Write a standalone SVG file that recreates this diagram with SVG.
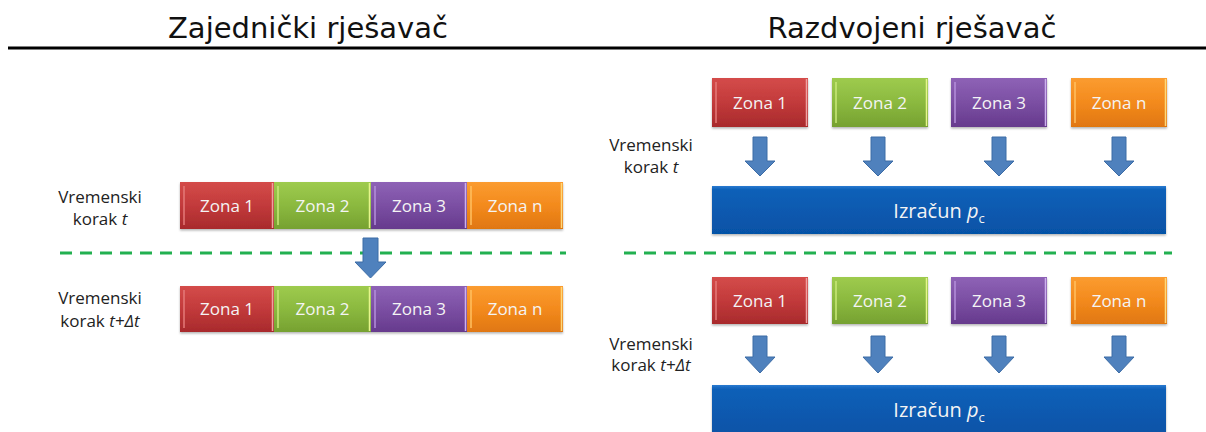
<svg xmlns="http://www.w3.org/2000/svg" width="1206" height="432" viewBox="0 0 1206 432">
<defs>
<linearGradient id="gRed" x1="0" y1="0" x2="0" y2="1"><stop offset="0" stop-color="#d44c4a"/><stop offset="0.5" stop-color="#c23a3b"/><stop offset="1" stop-color="#a82a2c"/></linearGradient>
<linearGradient id="gGreen" x1="0" y1="0" x2="0" y2="1"><stop offset="0" stop-color="#9ecb4e"/><stop offset="0.5" stop-color="#8bb93f"/><stop offset="1" stop-color="#76a131"/></linearGradient>
<linearGradient id="gPurple" x1="0" y1="0" x2="0" y2="1"><stop offset="0" stop-color="#8e62b6"/><stop offset="0.5" stop-color="#7b4fa3"/><stop offset="1" stop-color="#663a8d"/></linearGradient>
<linearGradient id="gOrange" x1="0" y1="0" x2="0" y2="1"><stop offset="0" stop-color="#fb9c30"/><stop offset="0.5" stop-color="#f38a1d"/><stop offset="1" stop-color="#e07711"/></linearGradient>
<linearGradient id="gBlue" x1="0" y1="0" x2="0" y2="1"><stop offset="0" stop-color="#2a7ad0"/><stop offset="0.08" stop-color="#0e60b8"/><stop offset="1" stop-color="#0652a6"/></linearGradient>
<filter id="sh" x="-5%" y="-10%" width="110%" height="130%"><feDropShadow dx="0" dy="1.5" stdDeviation="1" flood-color="#000" flood-opacity="0.3"/></filter>
</defs>
<style>
.head{font-family:"DejaVu Sans",Verdana,sans-serif;font-size:29px;fill:#111;text-anchor:middle}
.lbl{font-family:"Open Sans","Liberation Sans",sans-serif;font-size:17px;fill:#222;text-anchor:middle}
.zt{font-family:"Open Sans","Liberation Sans",sans-serif;font-size:17px;fill:#f4f4f4;text-anchor:middle}
.bt{font-family:"Open Sans","Liberation Sans",sans-serif;font-size:20px;fill:#f4f4f4;text-anchor:middle}
.red{fill:url(#gRed)}.green{fill:url(#gGreen)}.purple{fill:url(#gPurple)}.orange{fill:url(#gOrange)}.blue{fill:url(#gBlue)}
.box{filter:url(#sh)}
.hl{stroke-width:1.5}
.dash{stroke:#22b050;stroke-width:3;stroke-dasharray:12 8;fill:none}
.arr{fill:#4f81bd;stroke:#3c6ca6;stroke-width:1}
</style>
<rect width="1206" height="432" fill="#fff"/>
<text class="head" x="308" y="38">Zajednički rješavač</text>
<text class="head" x="912" y="38">Razdvojeni rješavač</text>
<rect x="8" y="46.5" width="1198" height="3" fill="#000"/>

<line class="dash" x1="60" y1="253" x2="566" y2="253"/>
<line class="dash" x1="624" y1="253" x2="1172" y2="253"/>

<g id="label-left-t"><text class="lbl" x="100" y="203">Vremenski</text><text class="lbl" x="100" y="225">korak <tspan font-style="italic">t</tspan></text></g>
<g id="label-left-tdt"><text class="lbl" x="100" y="304">Vremenski</text><text class="lbl" x="100" y="327">korak <tspan font-style="italic">t+Δt</tspan></text></g>
<g id="label-right-t"><text class="lbl" x="651" y="151">Vremenski</text><text class="lbl" x="651" y="173">korak <tspan font-style="italic">t</tspan></text></g>
<g id="label-right-tdt"><text class="lbl" x="651" y="350">Vremenski</text><text class="lbl" x="651" y="371">korak <tspan font-style="italic">t+Δt</tspan></text></g>

<!-- Left: joint solver rows -->
<g id="row-left-t" class="box">
<rect class="red" x="180" y="182" width="94" height="47"/>
<rect class="green" x="274" y="182" width="97" height="47"/>
<rect class="purple" x="371" y="182" width="96" height="47"/>
<rect class="orange" x="467" y="182" width="96" height="47"/>
</g>
<g id="left-t-hl" class="hl">
<line x1="184" y1="186" x2="184" y2="225" stroke="#e57a78"/><line x1="272.5" y1="183" x2="272.5" y2="228" stroke="#f0a0a0"/>
<line x1="278" y1="186" x2="278" y2="225" stroke="#c8e878"/><line x1="369.5" y1="183" x2="369.5" y2="228" stroke="#e6f58c"/>
<line x1="375" y1="186" x2="375" y2="225" stroke="#b58fdb"/><line x1="465.5" y1="183" x2="465.5" y2="228" stroke="#cdb0ee"/>
<line x1="471" y1="186" x2="471" y2="225" stroke="#ffc060"/><line x1="561.5" y1="183" x2="561.5" y2="228" stroke="#ffd878"/>
</g>
<g id="left-t-zona1"><text class="zt" x="227" y="212">Zona 1</text></g>
<g id="left-t-zona2"><text class="zt" x="322.5" y="212">Zona 2</text></g>
<g id="left-t-zona3"><text class="zt" x="419" y="212">Zona 3</text></g>
<g id="left-t-zonan"><text class="zt" x="515" y="212">Zona n</text></g>

<g id="row-left-tdt" class="box">
<rect class="red" x="180" y="286" width="94" height="46"/>
<rect class="green" x="274" y="286" width="97" height="46"/>
<rect class="purple" x="371" y="286" width="96" height="46"/>
<rect class="orange" x="467" y="286" width="96" height="46"/>
</g>
<g id="left-tdt-hl" class="hl">
<line x1="184" y1="290" x2="184" y2="328" stroke="#e57a78"/><line x1="272.5" y1="287" x2="272.5" y2="331" stroke="#f0a0a0"/>
<line x1="278" y1="290" x2="278" y2="328" stroke="#c8e878"/><line x1="369.5" y1="287" x2="369.5" y2="331" stroke="#e6f58c"/>
<line x1="375" y1="290" x2="375" y2="328" stroke="#b58fdb"/><line x1="465.5" y1="287" x2="465.5" y2="331" stroke="#cdb0ee"/>
<line x1="471" y1="290" x2="471" y2="328" stroke="#ffc060"/><line x1="561.5" y1="287" x2="561.5" y2="331" stroke="#ffd878"/>
</g>
<g id="left-tdt-zona1"><text class="zt" x="227" y="315">Zona 1</text></g>
<g id="left-tdt-zona2"><text class="zt" x="322.5" y="315">Zona 2</text></g>
<g id="left-tdt-zona3"><text class="zt" x="419" y="315">Zona 3</text></g>
<g id="left-tdt-zonan"><text class="zt" x="515" y="315">Zona n</text></g>

<!-- Right: segregated solver, step t -->
<g id="r-t-zona1"><rect class="red box" x="712" y="78" width="96" height="49"/><line class="hl" x1="716" y1="82" x2="716" y2="123" stroke="#e57a78"/><line class="hl" x1="806.5" y1="79" x2="806.5" y2="126" stroke="#f0a0a0"/><text class="zt" x="760" y="109">Zona 1</text></g>
<g id="r-t-zona2"><rect class="green box" x="832" y="78" width="96" height="49"/><line class="hl" x1="836" y1="82" x2="836" y2="123" stroke="#c8e878"/><line class="hl" x1="926.5" y1="79" x2="926.5" y2="126" stroke="#e6f58c"/><text class="zt" x="880" y="109">Zona 2</text></g>
<g id="r-t-zona3"><rect class="purple box" x="951" y="78" width="96" height="49"/><line class="hl" x1="955" y1="82" x2="955" y2="123" stroke="#b58fdb"/><line class="hl" x1="1045.5" y1="79" x2="1045.5" y2="126" stroke="#cdb0ee"/><text class="zt" x="999" y="109">Zona 3</text></g>
<g id="r-t-zonan"><rect class="orange box" x="1071" y="78" width="96" height="49"/><line class="hl" x1="1075" y1="82" x2="1075" y2="123" stroke="#ffc060"/><line class="hl" x1="1165.5" y1="79" x2="1165.5" y2="126" stroke="#ffd878"/><text class="zt" x="1119" y="109">Zona n</text></g>
<g id="r-t-izracun"><rect class="blue box" x="712" y="186" width="454" height="48"/><text class="bt" x="939" y="218">Izračun <tspan font-style="italic">p</tspan><tspan font-size="13" dy="5">c</tspan></text></g>

<!-- Right: step t+dt -->
<g id="r-tdt-zona1"><rect class="red box" x="712" y="277" width="96" height="47"/><line class="hl" x1="716" y1="281" x2="716" y2="320" stroke="#e57a78"/><line class="hl" x1="806.5" y1="278" x2="806.5" y2="323" stroke="#f0a0a0"/><text class="zt" x="760" y="307">Zona 1</text></g>
<g id="r-tdt-zona2"><rect class="green box" x="832" y="277" width="96" height="47"/><line class="hl" x1="836" y1="281" x2="836" y2="320" stroke="#c8e878"/><line class="hl" x1="926.5" y1="278" x2="926.5" y2="323" stroke="#e6f58c"/><text class="zt" x="880" y="307">Zona 2</text></g>
<g id="r-tdt-zona3"><rect class="purple box" x="951" y="277" width="96" height="47"/><line class="hl" x1="955" y1="281" x2="955" y2="320" stroke="#b58fdb"/><line class="hl" x1="1045.5" y1="278" x2="1045.5" y2="323" stroke="#cdb0ee"/><text class="zt" x="999" y="307">Zona 3</text></g>
<g id="r-tdt-zonan"><rect class="orange box" x="1071" y="277" width="96" height="47"/><line class="hl" x1="1075" y1="281" x2="1075" y2="320" stroke="#ffc060"/><line class="hl" x1="1165.5" y1="278" x2="1165.5" y2="323" stroke="#ffd878"/><text class="zt" x="1119" y="307">Zona n</text></g>
<g id="r-tdt-izracun"><rect class="blue box" x="712" y="385" width="454" height="52"/><text class="bt" x="939" y="417">Izračun <tspan font-style="italic">p</tspan><tspan font-size="13" dy="5">c</tspan></text></g>

<g id="connectors">
<path class="arr" d="M363,238 H378 V262 H386 L370.5,278 L355,262 H363 Z"/>
<path class="arr" d="M753,137 H767 V161 H775 L760,176 L745,161 H753 Z"/>
<path class="arr" d="M871,137 H885 V161 H893 L878,176 L863,161 H871 Z"/>
<path class="arr" d="M992,137 H1006 V161 H1014 L999,176 L984,161 H992 Z"/>
<path class="arr" d="M1112,137 H1126 V161 H1134 L1119,176 L1104,161 H1112 Z"/>
<path class="arr" d="M753,336 H767 V357 H775 L760,373 L745,357 H753 Z"/>
<path class="arr" d="M871,336 H885 V357 H893 L878,373 L863,357 H871 Z"/>
<path class="arr" d="M992,336 H1006 V357 H1014 L999,373 L984,357 H992 Z"/>
<path class="arr" d="M1112,336 H1126 V357 H1134 L1119,373 L1104,357 H1112 Z"/>
</g>
</svg>
